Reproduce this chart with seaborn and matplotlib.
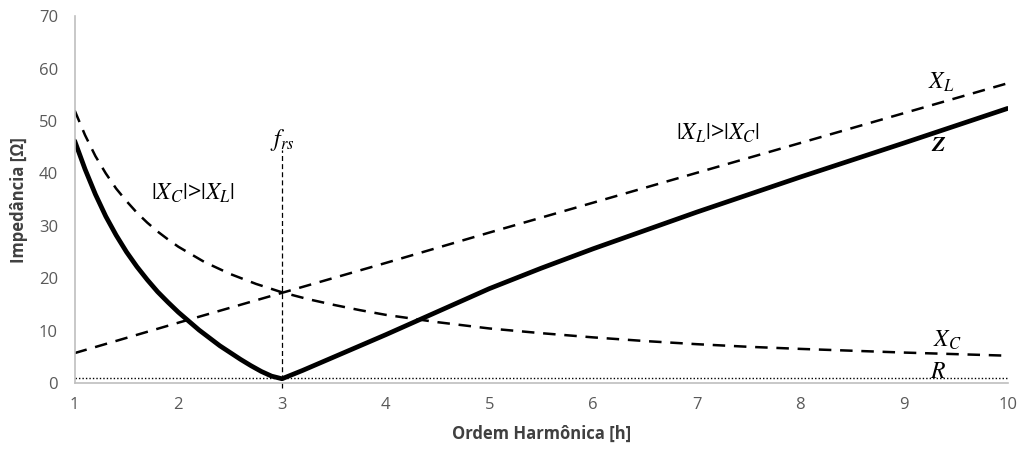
import matplotlib
matplotlib.use("Agg")
import matplotlib.pyplot as plt
import seaborn as sns
import pandas as pd

# ---- data ----
h_xl = [1, 2, 3, 4, 5, 6, 7, 8, 9, 10]
xl = [5.7, 11.5, 17.2, 22.9, 28.7, 34.4, 40.1, 45.8, 51.5, 57.2]

h_xc = [1.0, 1.1, 1.2, 1.3, 1.4, 1.5, 1.6, 1.7, 1.8, 1.9, 2.0, 2.25, 2.5, 2.75,
        3.0, 3.25, 3.5, 3.75, 4.0, 4.5, 5.0, 5.5, 6.0, 6.5, 7.0, 7.5, 8.0, 9.0, 10.0]
xc = [52.0, 47.3, 43.3, 40.0, 37.1, 34.7, 32.5, 30.6, 28.9, 27.4, 26.0, 23.1,
      20.8, 18.9, 17.3, 16.0, 14.9, 13.9, 13.0, 11.6, 10.4, 9.5, 8.7, 8.0,
      7.4, 6.9, 6.5, 5.8, 5.2]

h_z = [1.0, 1.1, 1.2, 1.3, 1.4, 1.5, 1.6, 1.7, 1.8, 1.9, 2.0, 2.1, 2.2, 2.3,
       2.4, 2.5, 2.6, 2.7, 2.8, 2.9, 3.0, 3.1, 3.2, 3.4, 3.6, 3.8, 4.0, 4.5,
       5.0, 5.5, 6.0, 7.0, 8.0, 9.0, 10.0]
z = [46.2, 40.8, 36.0, 31.8, 28.2, 25.0, 22.2, 19.7, 17.4, 15.4, 13.5, 11.8,
     10.1, 8.6, 7.1, 5.8, 4.5, 3.3, 2.2, 1.3, 0.8, 1.6, 2.4, 4.1, 5.8, 7.5,
     9.2, 13.6, 18.0, 21.9, 25.6, 32.6, 39.3, 45.8, 52.4]

h_r = [1, 10]
r = [0.9, 0.9]

x_ticks = [1, 2, 3, 4, 5, 6, 7, 8, 9, 10]
y_ticks = [0, 10, 20, 30, 40, 50, 60, 70]
x_label = "Ordem Harmônica [h]"
y_label = "Impedância [Ω]"

sns.set_theme(style="white")
plt.rcParams["font.family"] = ["Open Sans", "DejaVu Sans"]
plt.rcParams["mathtext.fontset"] = "stix"

fig, ax = plt.subplots(figsize=(10.23, 4.5), dpi=100)
fig.subplots_adjust(left=0.073, right=0.985, top=0.964, bottom=0.149)

df_xl = pd.DataFrame({"h": h_xl, "v": xl})
df_xc = pd.DataFrame({"h": h_xc, "v": xc})
df_z = pd.DataFrame({"h": h_z, "v": z})
df_r = pd.DataFrame({"h": h_r, "v": r})

sns.lineplot(data=df_r, x="h", y="v", ax=ax, color="black", lw=1.0,
             linestyle=(0, (1, 1.5)))
sns.lineplot(data=df_xl, x="h", y="v", ax=ax, color="black", lw=1.8,
             linestyle=(0, (5, 3.5)))
sns.lineplot(data=df_xc, x="h", y="v", ax=ax, color="black", lw=1.8,
             linestyle=(0, (5, 3.5)))
sns.lineplot(data=df_z, x="h", y="v", ax=ax, color="black", lw=3.4)
for ln in ax.lines:
    ln.set_solid_joinstyle("round")
    ln.set_dash_joinstyle("round")

# resonance marker
ax.plot([3, 3], [-1.0, 44.5], color="black", lw=0.9, linestyle=(0, (4, 2.5)),
        clip_on=False)

ax.set_xlim(1, 10)
ax.set_ylim(0, 70)
ax.set_xticks(x_ticks)
ax.set_yticks(y_ticks)
ax.tick_params(axis="both", length=0, labelsize=12, labelcolor="#595959")
ax.tick_params(axis="x", pad=10)
ax.tick_params(axis="y", pad=12)
ax.set_xlabel(x_label, fontsize=12, fontweight="bold", color="#404040", labelpad=9)
ax.set_ylabel(y_label, fontsize=12, fontweight="bold", color="#404040", labelpad=8)

for s in ["top", "right"]:
    ax.spines[s].set_visible(False)
for s in ["left", "bottom"]:
    ax.spines[s].set_color("#bfbfbf")
    ax.spines[s].set_linewidth(1.2)

tk = dict(fontsize=17, color="black", ha="center", va="center")
ax.text(3.0, 46.3, r"$f_{rs}$", **tk)
ax.text(2.14, 36.2, r"$|X_C|$>$|X_L|$", **tk)
ax.text(7.21, 47.6, r"$|X_L|$>$|X_C|$", **tk)
ax.text(9.36, 57.4, r"$X_L$", **tk)
ax.text(9.33, 45.3, "Z", fontsize=16, color="black", ha="center", va="center",
        fontfamily="STIXGeneral", fontweight="bold", fontstyle="italic")
ax.text(9.42, 8.0, r"$X_C$", **tk)
ax.text(9.33, 2.1, r"$R$", **tk)

fig.savefig("out.png", dpi=100)
